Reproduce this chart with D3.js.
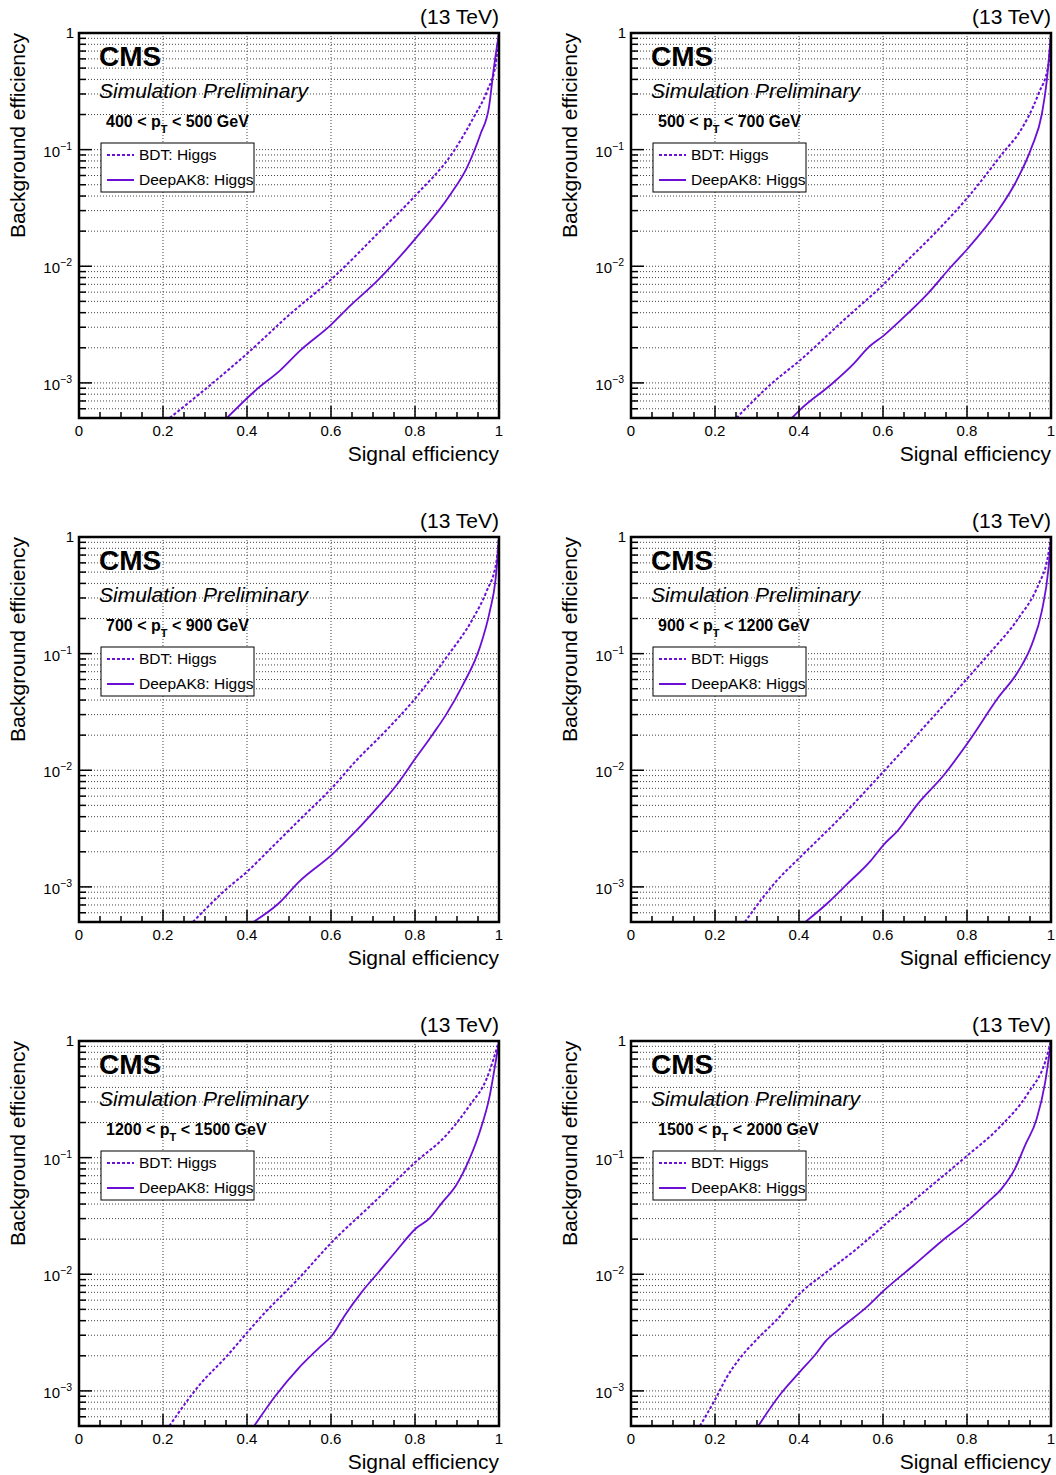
<!DOCTYPE html>
<html>
<head>
<meta charset="utf-8">
<script src="https://cdn.jsdelivr.net/npm/d3@7"></script>
<style>
  html, body { margin: 0; padding: 0; background: #fff; }
  svg { display: block; font-family: "Liberation Sans", Arial, Helvetica, sans-serif; }
</style>
</head>
<body>
<svg id="chart" width="1056" height="1475"></svg>
<script>
// ---- Data (signal efficiency, background efficiency) ----
const ptLabels = [["400", "500"], ["500", "700"], ["700", "900"], ["900", "1200"], ["1200", "1500"], ["1500", "2000"]];
const seriesNames = ["BDT: Higgs", "DeepAK8: Higgs"];
const xTicks = [0, 0.2, 0.4, 0.6, 0.8, 1];
const xTickLabels = ["0", "0.2", "0.4", "0.6", "0.8", "1"];
const yDecades = [1, 1e-1, 1e-2, 1e-3];
const yDecadeExp = [null, "−1", "−2", "−3"];

const bdt1 = [[0.216,5e-4],[0.40,1.78e-3],[0.503,3.9e-3],[0.606,8.05e-3],[0.718,0.0202],[0.797,0.039],[0.893,0.098],[0.940,0.19],[0.972,0.32],[0.992,0.54],[1,1]];
const dak1 = [[0.352,5e-4],[0.423,8.8e-4],[0.479,1.28e-3],[0.527,1.9e-3],[0.598,3.1e-3],[0.646,4.6e-3],[0.710,7.5e-3],[0.797,0.0166],[0.885,0.0417],[0.924,0.0706],[0.956,0.136],[0.976,0.23],[0.988,0.51],[1,1]];

const bdt2 = [[0.251,5e-4],[0.331,9.6e-4],[0.403,1.57e-3],[0.507,3.46e-3],[0.603,7.1e-3],[0.650,0.0105],[0.730,0.0203],[0.802,0.039],[0.890,0.098],[0.922,0.136],[0.970,0.30],[0.994,0.54],[1,1]];
const dak2 = [[0.383,5e-4],[0.403,5.9e-4],[0.475,9.6e-4],[0.531,1.47e-3],[0.563,1.98e-3],[0.603,2.57e-3],[0.659,3.94e-3],[0.706,5.8e-3],[0.762,9.9e-3],[0.802,0.0142],[0.874,0.030],[0.914,0.051],[0.954,0.105],[0.978,0.20],[0.990,0.39],[1,1]];

const bdt3 = [[0.271,5e-4],[0.347,9.3e-4],[0.403,1.38e-3],[0.459,2.18e-3],[0.531,3.94e-3],[0.603,7.1e-3],[0.659,0.012],[0.730,0.0217],[0.802,0.0418],[0.874,0.092],[0.938,0.20],[0.970,0.34],[0.994,0.62],[1,1]];
const dak3 = [[0.415,5e-4],[0.475,7.2e-4],[0.523,1.1e-3],[0.603,1.9e-3],[0.659,3.0e-3],[0.714,4.95e-3],[0.754,7.3e-3],[0.802,0.0128],[0.842,0.0203],[0.874,0.030],[0.914,0.054],[0.954,0.112],[0.978,0.23],[0.992,0.44],[1,1]];

const bdt4 = [[0.271,5e-4],[0.347,1.13e-3],[0.403,1.8e-3],[0.499,3.94e-3],[0.603,9.9e-3],[0.682,0.0203],[0.802,0.062],[0.858,0.105],[0.922,0.20],[0.970,0.39],[0.992,0.66],[1,1]];
const dak4 = [[0.415,5e-4],[0.467,7.2e-4],[0.515,1.06e-3],[0.571,1.68e-3],[0.603,2.33e-3],[0.634,3.0e-3],[0.682,5.1e-3],[0.746,9.2e-3],[0.802,0.0172],[0.874,0.0418],[0.922,0.0706],[0.954,0.119],[0.978,0.23],[0.994,0.54],[1,1]];

const bdt5 = [[0.215,5e-4],[0.291,1.17e-3],[0.347,1.9e-3],[0.403,3.24e-3],[0.427,4.07e-3],[0.523,9.2e-3],[0.603,0.019],[0.698,0.040],[0.802,0.092],[0.874,0.155],[0.930,0.28],[0.970,0.47],[1,1]];
const dak5 = [[0.417,5e-4],[0.467,9.0e-4],[0.523,1.57e-3],[0.571,2.33e-3],[0.603,3.0e-3],[0.634,4.5e-3],[0.674,7.1e-3],[0.714,0.0105],[0.754,0.0156],[0.802,0.0247],[0.834,0.030],[0.866,0.0418],[0.898,0.058],[0.930,0.098],[0.954,0.166],[0.978,0.34],[0.992,0.66],[1,1]];

const bdt6 = [[0.164,5e-4],[0.200,8.4e-4],[0.227,1.29e-3],[0.259,1.9e-3],[0.299,2.75e-3],[0.347,4.07e-3],[0.403,6.9e-3],[0.467,0.0105],[0.539,0.0167],[0.603,0.0264],[0.698,0.051],[0.802,0.105],[0.874,0.177],[0.946,0.36],[0.986,0.66],[1,1]];
const dak6 = [[0.303,5e-4],[0.355,9.3e-4],[0.403,1.47e-3],[0.439,2.05e-3],[0.463,2.66e-3],[0.499,3.45e-3],[0.563,5.3e-3],[0.603,7.3e-3],[0.674,0.012],[0.738,0.019],[0.802,0.029],[0.850,0.0418],[0.882,0.054],[0.914,0.080],[0.938,0.127],[0.966,0.215],[0.986,0.44],[1,1]];

const bdtSeries = [bdt1, bdt2, bdt3, bdt4, bdt5, bdt6];
const dakSeries = [dak1, dak2, dak3, dak4, dak5, dak6];

// ---- Layout ----
const svg = d3.select("#chart");
const W = 420, H = 385;
const colX = [79, 631];
const rowY = [33, 537, 1041];
const lineColor = "#6b0fd6";

const x = d3.scaleLinear().domain([0, 1]).range([0, W]);
const y = d3.scaleLog().domain([5e-4, 1]).range([H, 0]);

// minor log ticks
const yMinor = [];
[1e-4, 1e-3, 1e-2, 1e-1].forEach(d => { for (let k = 1; k <= 9; k++) { const v = k * d; if (v >= 5e-4 - 1e-12 && v <= 1) yMinor.push(v); } });
yMinor.push(1);
const xMinor = d3.range(0, 1.0001, 0.05);

const line = d3.line().x(d => x(d[0])).y(d => y(d[1])).curve(d3.curveMonotoneX);

for (let p = 0; p < 6; p++) {
  const cx = colX[p % 2], cy = rowY[Math.floor(p / 2)];
  const g = svg.append("g").attr("transform", `translate(${cx},${cy})`);

  // grid
  g.append("g").selectAll("line").data(yMinor.filter(v => v < 0.9999)).join("line")
    .attr("x1", 0).attr("x2", W).attr("y1", d => y(d)).attr("y2", d => y(d))
    .attr("stroke", "#444").attr("stroke-width", 1).attr("stroke-dasharray", "1,2");
  g.append("g").selectAll("line").data(xTicks.filter(v => v > 0 && v < 1)).join("line")
    .attr("x1", d => x(d)).attr("x2", d => x(d)).attr("y1", 0).attr("y2", H)
    .attr("stroke", "#444").attr("stroke-width", 1).attr("stroke-dasharray", "1,2");

  // clip
  const clipId = "clip" + p;
  g.append("clipPath").attr("id", clipId).append("rect").attr("x", 0).attr("y", 0).attr("width", W).attr("height", H);

  // curves
  g.append("path").datum(bdtSeries[p]).attr("d", line).attr("clip-path", `url(#${clipId})`)
    .attr("fill", "none").attr("stroke", lineColor).attr("stroke-width", 2).attr("stroke-dasharray", "3,2");
  g.append("path").datum(dakSeries[p]).attr("d", line).attr("clip-path", `url(#${clipId})`)
    .attr("fill", "none").attr("stroke", lineColor).attr("stroke-width", 1.8);

  // ticks (inside)
  g.append("g").selectAll("line").data(xMinor).join("line")
    .attr("x1", d => x(d)).attr("x2", d => x(d))
    .attr("y1", H).attr("y2", d => H - (Math.abs(d * 5 - Math.round(d * 5)) < 1e-6 ? 12 : 6))
    .attr("stroke", "#000").attr("stroke-width", 1.5);
  g.append("g").selectAll("line").data(yMinor).join("line")
    .attr("y1", d => y(d)).attr("y2", d => y(d)).attr("x1", 0)
    .attr("x2", d => (yDecades.some(v => Math.abs(v - d) / v < 1e-6) ? 13 : 7))
    .attr("stroke", "#000").attr("stroke-width", 1.5);

  // frame
  g.append("rect").attr("x", 0).attr("y", 0).attr("width", W).attr("height", H)
    .attr("fill", "none").attr("stroke", "#000").attr("stroke-width", 2.5);

  // x tick labels
  g.append("g").selectAll("text").data(xTicks).join("text")
    .attr("x", d => x(d)).attr("y", H + 18).attr("text-anchor", "middle")
    .attr("font-size", 15).attr("fill", "#000").text((d, i) => xTickLabels[i]);

  // y tick labels
  yDecades.forEach((v, i) => {
    if (yDecadeExp[i] === null) {
      g.append("text").attr("x", -5).attr("y", y(v) + 5).attr("text-anchor", "end")
        .attr("font-size", 15).text("1");
    } else {
      const t = g.append("text").attr("x", -7).attr("y", y(v) + 7).attr("text-anchor", "end").attr("font-size", 15);
      t.append("tspan").text("10");
      t.append("tspan").attr("font-size", 10.5).attr("dy", -7).text(yDecadeExp[i]);
    }
  });

  // axis titles
  g.append("text").attr("x", W).attr("y", H + 43).attr("text-anchor", "end")
    .attr("font-size", 21).text("Signal efficiency");
  g.append("text").attr("transform", `translate(${-54},0) rotate(-90)`).attr("text-anchor", "end")
    .attr("font-size", 21).text("Background efficiency");
  g.append("text").attr("x", W).attr("y", -9).attr("text-anchor", "end")
    .attr("font-size", 21).text("(13 TeV)");

  // CMS labels
  g.append("text").attr("x", 20).attr("y", 33).attr("font-size", 28).attr("font-weight", "bold").text("CMS");
  g.append("text").attr("x", 20).attr("y", 65).attr("font-size", 21).attr("font-style", "italic").text("Simulation Preliminary");
  const pt = g.append("text").attr("x", 27).attr("y", 94).attr("font-size", 16).attr("font-weight", "bold");
  pt.append("tspan").text(ptLabels[p][0] + " < p");
  pt.append("tspan").attr("font-size", 11).attr("dy", 6).text("T");
  pt.append("tspan").attr("dy", -6).text(" < " + ptLabels[p][1] + " GeV");

  // legend
  const lg = g.append("g").attr("transform", "translate(22,110)");
  lg.append("rect").attr("x", 0).attr("y", 0).attr("width", 153).attr("height", 49)
    .attr("fill", "#fff").attr("stroke", "#000").attr("stroke-width", 1);
  seriesNames.forEach((name, i) => {
    const yy = 12 + i * 25;
    lg.append("line").attr("x1", 6).attr("x2", 33).attr("y1", yy).attr("y2", yy)
      .attr("stroke", lineColor).attr("stroke-width", 2)
      .attr("stroke-dasharray", i === 0 ? "3,2" : null);
    lg.append("text").attr("x", 38).attr("y", yy + 5).attr("font-size", 15.5).text(name);
  });
}
</script>
</body>
</html>
